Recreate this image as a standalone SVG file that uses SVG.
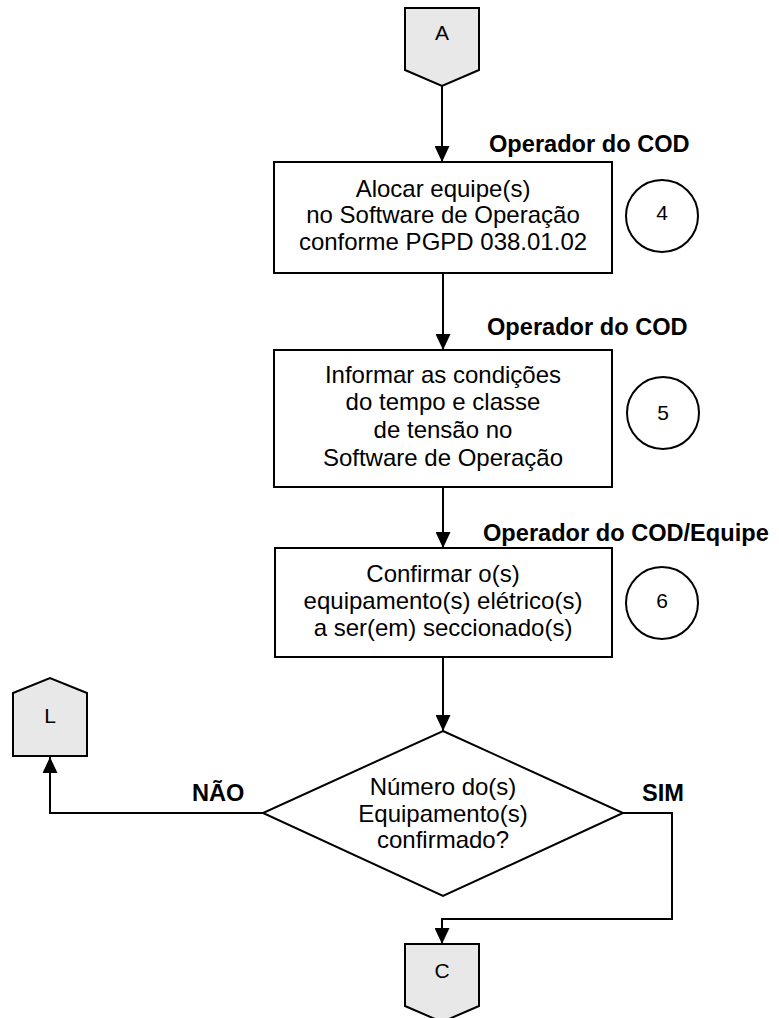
<svg xmlns="http://www.w3.org/2000/svg" width="779" height="1018" viewBox="0 0 779 1018">
<style>
.shape{fill:#fff;stroke:#000;stroke-width:2}
.conn{fill:#e8e8e8;stroke:#000;stroke-width:2}
.t{font-family:"Liberation Sans",Arial,sans-serif;font-size:24px;fill:#000;text-anchor:middle}
.tc{font-family:"Liberation Sans",Arial,sans-serif;font-size:21px;fill:#000;text-anchor:middle}
.b{font-family:"Liberation Sans",Arial,sans-serif;font-size:23.6px;font-weight:bold;fill:#000}
.line{fill:none;stroke:#000;stroke-width:2}
</style>
<defs>
<marker id="arr" viewBox="0 0 16 15" refX="16" refY="7.5" markerWidth="16" markerHeight="15" markerUnits="userSpaceOnUse" orient="auto">
<path d="M0,0 L16,7.5 L0,15 Z" fill="#000"/>
</marker>
</defs>
<rect width="779" height="1018" fill="#fff"/>
<g id="connectors">
<line class="line" x1="442" y1="86" x2="442" y2="162" marker-end="url(#arr)"/>
<line class="line" x1="443" y1="273" x2="443" y2="350" marker-end="url(#arr)"/>
<line class="line" x1="443" y1="487" x2="443" y2="548" marker-end="url(#arr)"/>
<line class="line" x1="443" y1="657" x2="443" y2="731" marker-end="url(#arr)"/>
<polyline class="line" points="263,813 50,813 50,757" marker-end="url(#arr)"/>
<polyline class="line" points="623,813 672,813 672,919 442,919 442,944" marker-end="url(#arr)"/>
</g>
<g id="nodeA">
<polygon class="conn" points="405,8 479,8 479,70 442,86 405,70"/>
<text class="tc" x="442" y="40">A</text>
</g>
<g id="label1"><text class="b" x="489" y="152">Operador do COD</text></g>
<g id="box4">
<rect class="shape" x="274" y="162" width="338" height="111"/>
<text class="t" x="443" y="197">Alocar equipe(s)</text>
<text class="t" x="443" y="223">no Software de Operação</text>
<text class="t" x="443" y="250">conforme PGPD 038.01.02</text>
</g>
<g id="circle4">
<circle class="shape" cx="662" cy="216" r="36"/>
<text class="tc" x="662" y="220">4</text>
</g>
<g id="label2"><text class="b" x="487" y="335">Operador do COD</text></g>
<g id="box5">
<rect class="shape" x="274" y="350" width="338" height="137"/>
<text class="t" x="443" y="383">Informar as condições</text>
<text class="t" x="443" y="410">do tempo e classe</text>
<text class="t" x="443" y="438">de tensão no</text>
<text class="t" x="443" y="466">Software de Operação</text>
</g>
<g id="circle5">
<circle class="shape" cx="663" cy="413" r="36"/>
<text class="tc" x="663" y="420">5</text>
</g>
<g id="label3"><text class="b" x="483" y="541">Operador do COD/Equipe</text></g>
<g id="box6">
<rect class="shape" x="275" y="548" width="337" height="109"/>
<text class="t" x="443" y="582">Confirmar o(s)</text>
<text class="t" x="443" y="609">equipamento(s) elétrico(s)</text>
<text class="t" x="443" y="636">a ser(em) seccionado(s)</text>
</g>
<g id="circle6">
<circle class="shape" cx="662" cy="603" r="36"/>
<text class="tc" x="662" y="608">6</text>
</g>
<g id="decision">
<polygon class="shape" points="443,731 623,813 443,896 263,813"/>
<text class="t" x="443" y="795">Número do(s)</text>
<text class="t" x="443" y="822">Equipamento(s)</text>
<text class="t" x="443" y="848">confirmado?</text>
</g>
<g id="labelNao"><text class="b" x="192" y="801">NÃO</text></g>
<g id="labelSim"><text class="b" x="642" y="801">SIM</text></g>
<g id="nodeL">
<polygon class="conn" points="13,756 87,756 87,693 50,678 13,693"/>
<text class="tc" x="50" y="723">L</text>
</g>
<g id="nodeC">
<polygon class="conn" points="405,944 479,944 479,1006 442,1022 405,1006"/>
<text class="tc" x="442" y="978">C</text>
</g>
</svg>
